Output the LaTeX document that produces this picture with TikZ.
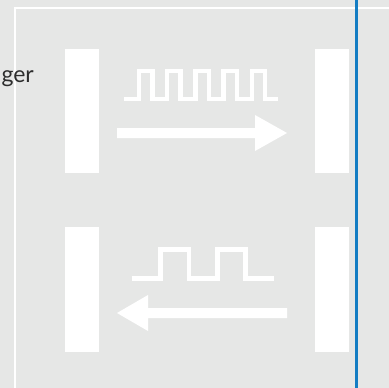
\documentclass[tikz,border=0pt]{standalone}
\usepackage{fontspec}
\setmainfont{Lato}
\definecolor{bg}{RGB}{230,231,230}
\definecolor{bluel}{RGB}{20,125,195}
\definecolor{txt}{RGB}{45,45,45}
\tikzset{
  block/.style={fill=white},
  wave/.style={draw=white, line width=4.5pt, line join=miter, line cap=butt},
  frameline/.style={draw=white, line width=2.4pt},
  bigarrow/.style={fill=white},
}
\begin{document}
\begin{tikzpicture}[x=1pt,y=-1pt]
\fill[bg] (0,0) rectangle (389,388);
\useasboundingbox (0,0) rectangle (389,388);
% frame
\coordinate (fr1) at (15,388);
\coordinate (fr2) at (15,8);
\coordinate (fr3) at (389,8);
\draw[frameline] (fr1) -- (fr2) -- (fr3);
% label
\node[anchor=base east, inner sep=0pt, text=txt, font=\fontsize{23}{25}\selectfont] (lbl) at (34,82) {ger};
% blocks
\fill[block] (65,49) rectangle (99,173);
\fill[block] (315,49) rectangle (349,173);
\fill[block] (65,227) rectangle (99,352);
\fill[block] (315,227) rectangle (349,352);
% top wave
\draw[wave] (124,99) -- (139,99) -- (139,71) -- (152.4,71) -- (152.4,99)
  -- (167.2,99) -- (167.2,71) -- (180.6,71) -- (180.6,99)
  -- (195.4,99) -- (195.4,71) -- (208.8,71) -- (208.8,99)
  -- (223.6,99) -- (223.6,71) -- (237,71) -- (237,99)
  -- (251.8,99) -- (251.8,71) -- (265.2,71) -- (265.2,99) -- (278,99);
% bottom wave
\draw[wave] (131.7,278.3) -- (160.7,278.3) -- (160.7,249.5) -- (189,249.5) -- (189,278.3)
  -- (217.3,278.3) -- (217.3,249.5) -- (245.7,249.5) -- (245.7,278.3) -- (274.3,278.3);
% arrows
\fill[bigarrow] (117,128) -- (255,128) -- (255,115) -- (287,133) -- (255,151) -- (255,138) -- (117,138) -- cycle;
\fill[bigarrow] (287,308) -- (148,308) -- (148,295) -- (117,313) -- (148,331) -- (148,318) -- (287,318) -- cycle;
% blue line
\draw[bluel, line width=3pt] (356.5,0) -- (356.5,388);
\end{tikzpicture}
\end{document}
